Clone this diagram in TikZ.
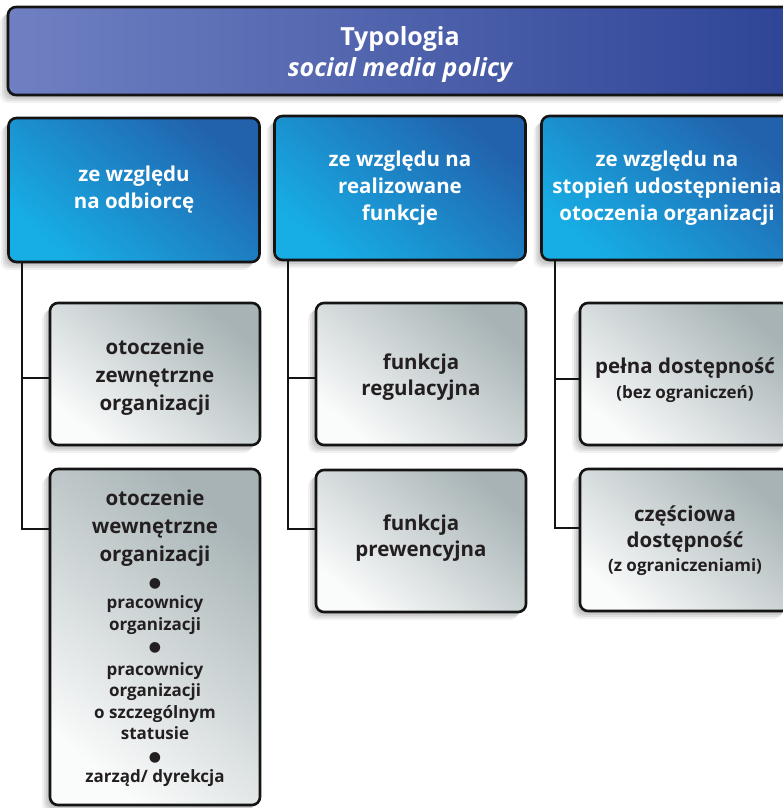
\documentclass[tikz,border=0pt]{standalone}
\usepackage{fontspec}
\setmainfont{Open Sans}
\newfontfamily\symfont{DejaVu Sans}
\usetikzlibrary{shadows}

\definecolor{titleL}{HTML}{6F80C2}
\definecolor{titleR}{HTML}{2E4496}
\definecolor{headT}{HTML}{2261AC}
\definecolor{headB}{HTML}{17AEE5}
\definecolor{grayT}{HTML}{A7B3B5}
\definecolor{grayM}{HTML}{E0E4E4}
\definecolor{grayB}{HTML}{FAFBFB}
\definecolor{ink}{HTML}{231F20}

% bullet separating the groups of employees
\newcommand{\dotsep}{{\symfont\fontsize{14}{14}\selectfont ●}}
\newcommand{\bigtxt}{\fontsize{20.5}{28}\selectfont}
\newcommand{\smalltxt}{\fontsize{17}{21.5}\selectfont}

\begin{document}
\begin{tikzpicture}[x=1pt, y=-1pt,
  softshadow/.style={
    drop shadow={shadow xshift=-2pt, shadow yshift=-2pt, opacity=0.08, fill=black},
    drop shadow={shadow xshift=-4pt, shadow yshift=-4pt, opacity=0.08, fill=black},
    drop shadow={shadow xshift=-6pt, shadow yshift=-6pt, opacity=0.07, fill=black},
    drop shadow={shadow xshift=-8pt, shadow yshift=-8pt, opacity=0.05, fill=black}},
  box/.style={draw=black!92, line width=2.6pt, rounded corners=8pt, softshadow},
  titlebox/.style={box, left color=titleL, right color=titleR,
    minimum width=784pt, minimum height=88pt},
  titletext/.style={text=white, align=flush center,
    font=\fontsize{25}{31}\selectfont\bfseries},
  headbox/.style={box, top color=headT, bottom color=headB, shading angle=-40,
    minimum width=251pt, minimum height=144pt, text=white, align=flush center,
    font=\fontsize{20.5}{27}\selectfont\bfseries},
  childbox/.style={box, top color=grayT, middle color=grayM, bottom color=grayB,
    shading angle=-40, minimum width=210pt},
  childtext/.style={text=ink, align=flush center, text width=200pt,
    font=\bigtxt\bfseries},
  conn/.style={draw=black!92, line width=2.6pt}
]
\useasboundingbox (0,0) rectangle (783,808);
\clip (0,0) rectangle (783,808);
\fill[white] (0,0) rectangle (783,808);

% title
\node[titlebox] (title) at (400,51) {};
\node[titletext] (titlet) at ([yshift=-4pt]title.center)
  {Typologia\\\itshape social media policy};

% three criteria
\node[headbox] (h1) at (134,190) {ze względu\\na odbiorcę};
\node[headbox] (h2) at (400,188) {ze względu na\\realizowane\\funkcje};
\node[headbox] (h3) at (667,188) {ze względu na\\stopień udostępnienia\\otoczenia organizacji};

% column 1
\node[childbox, minimum height=142pt] (c11) at (155,374) {};
\node[childtext] (c11t) at ([yshift=-3pt]c11.center)
  {otoczenie\\zewnętrzne\\organizacji};
\node[childbox, minimum height=336pt] (c12) at (155,637) {};
\node[childtext] (c12t) at ([yshift=-1pt]c12.center)
  {otoczenie\\wewnętrzne\\organizacji\\[-2pt]\dotsep\par
   \smalltxt pracownicy\\organizacji\\\dotsep\\[2pt]pracownicy\\organizacji\\o szczególnym\\statusie\\\dotsep\\zarząd/ dyrekcja\par};

% column 2
\node[childbox, minimum height=142pt] (c21) at (421,374) {};
\node[childtext] (c21t) at ([yshift=-3pt]c21.center)
  {\fontsize{20.5}{26}\selectfont funkcja\\regulacyjna\par};
\node[childbox, minimum height=142pt] (c22) at (421,541) {};
\node[childtext] (c22t) at ([yshift=3pt]c22.center)
  {\fontsize{20.5}{26}\selectfont funkcja\\prewencyjna\par};

% column 3
\node[childbox, minimum height=142pt] (c31) at (685,374) {};
\node[childtext] (c31t) at ([yshift=-6pt]c31.center)
  {\fontsize{20.5}{25}\selectfont pełna dostępność\par
   \fontsize{17}{25}\selectfont (bez ograniczeń)\par};
\node[childbox, minimum height=142pt] (c32) at (685,540) {};
\node[childtext] (c32t) at ([yshift=-1pt]c32.center)
  {\fontsize{20.5}{26}\selectfont częściowa\\dostępność\par
   \fontsize{17}{24}\selectfont (z ograniczeniami)\par};

% tree connectors
\coordinate (v1) at (22,0);
\coordinate (v2) at (288,0);
\coordinate (v3) at (555,0);
\coordinate (b11) at (50,378);
\coordinate (b12) at (50,529);
\coordinate (b21) at (315,378);
\coordinate (b22) at (315,529);
\coordinate (b31) at (579,379);
\coordinate (b32) at (579,528);

\draw[conn] (h1.south -| v1) |- (b11);
\draw[conn] (h1.south -| v1) |- (b12);
\draw[conn] (h2.south -| v2) |- (b21);
\draw[conn] (h2.south -| v2) |- (b22);
\draw[conn] (h3.south -| v3) |- (b31);
\draw[conn] (h3.south -| v3) |- (b32);
\end{tikzpicture}
\end{document}
